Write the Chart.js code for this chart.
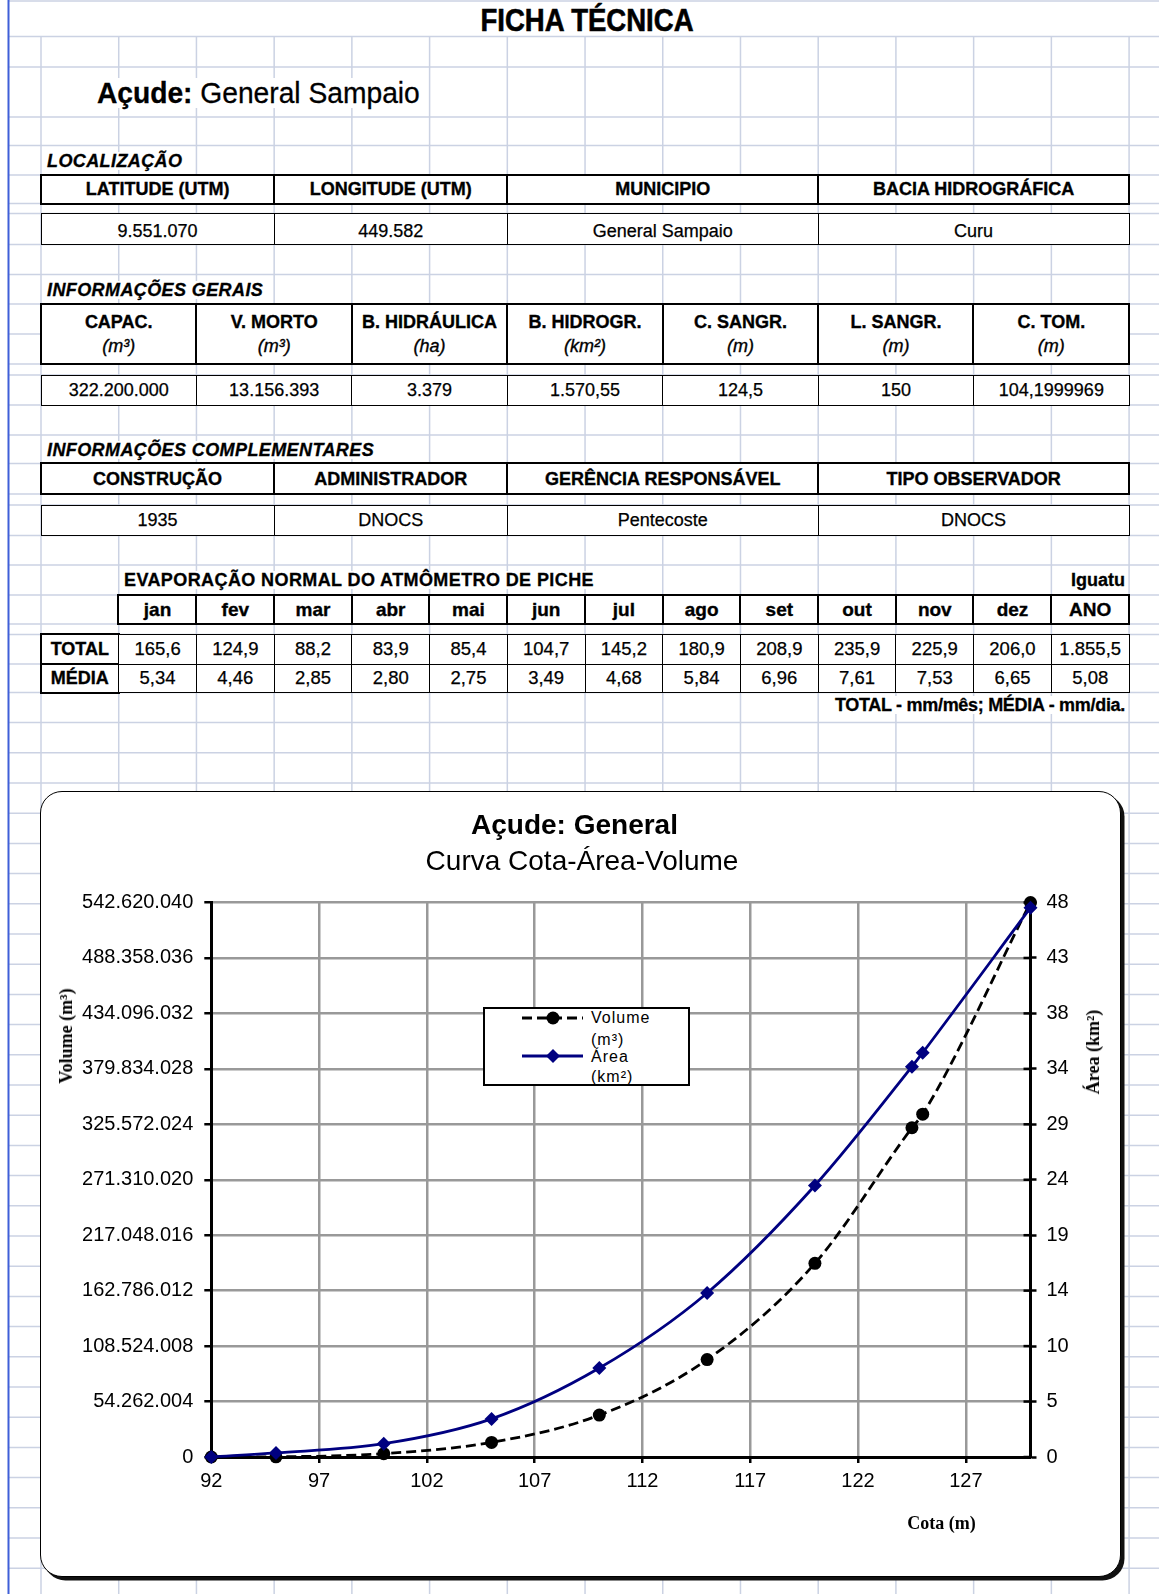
<!DOCTYPE html>
<html lang="pt-BR">
<head>
<meta charset="utf-8">
<title>Ficha Técnica – Açude General Sampaio</title>
<script src="https://cdn.jsdelivr.net/npm/chart.js@4.4.1/dist/chart.umd.min.js"></script>
<style>
  html, body { margin: 0; padding: 0; background: #fff; }
  #page { position: relative; width: 1159px; height: 1594px; overflow: hidden;
          font-family: "Liberation Sans", Arial, sans-serif; color: #000; }
  #sheet { position: absolute; left: 0; top: 0; z-index: 0; }
  .txt { position: absolute; white-space: nowrap; line-height: 1; z-index: 1; }
  .bg { background: #fff; padding: 0 2px; }
  .heavy { -webkit-text-stroke: 0.3px #000; }
  .cell { position: absolute; box-sizing: border-box; background: #fff; z-index: 1;
          display: flex; flex-direction: column; align-items: center; justify-content: center;
          font-size: 18px; white-space: nowrap; line-height: 24px; -webkit-text-stroke: 0.25px #000; }
  .hdr { font-weight: bold; -webkit-text-stroke: 0.35px #000; }
  .unit { font-weight: normal; font-style: italic; }
  #chartBox { position: absolute; left: 40px; top: 791px; width: 1081px; height: 786px;
              box-sizing: border-box; border: 1.5px solid #000; border-radius: 22px;
              box-shadow: 3.5px 3.5px 0 #111; background: #fff; z-index: 2; }
  #chartCanvas { position: absolute; z-index: 3; }
  .ov { position: absolute; white-space: nowrap; line-height: 1; z-index: 4; }
  .serifb { font-family: "Liberation Serif", "Times New Roman", serif; font-weight: bold; font-size: 18px; }
  #legend { position: absolute; left: 483px; top: 1007px; width: 207px; height: 79px; box-sizing: border-box;
            border: 2.5px solid #000; background: #fff; overflow: hidden; z-index: 4; }
  #legend .lt { position: absolute; font-size: 16px; letter-spacing: 1px; line-height: 1; white-space: nowrap; }
  #legend svg { position: absolute; left: 0; top: 0; }
</style>
</head>
<body>
<div id="page">
  <svg id="sheet" width="1159" height="1594"></svg>
  <div id="chartBox"></div>
  <canvas id="chartCanvas"></canvas>
</div>
<script>
// ---- sheet contents ----
const locHeaders  = ['LATITUDE (UTM)', 'LONGITUDE (UTM)', 'MUNICIPIO', 'BACIA HIDROGRÁFICA'];
const locValues   = ['9.551.070', '449.582', 'General Sampaio', 'Curu'];
const infoHeaders = ['CAPAC.', 'V. MORTO', 'B. HIDRÁULICA', 'B. HIDROGR.', 'C. SANGR.', 'L. SANGR.', 'C. TOM.'];
const infoUnits   = ['(m³)', '(m³)', '(ha)', '(km²)', '(m)', '(m)', '(m)'];
const infoValues  = ['322.200.000', '13.156.393', '3.379', '1.570,55', '124,5', '150', '104,1999969'];
const compHeaders = ['CONSTRUÇÃO', 'ADMINISTRADOR', 'GERÊNCIA RESPONSÁVEL', 'TIPO OBSERVADOR'];
const compValues  = ['1935', 'DNOCS', 'Pentecoste', 'DNOCS'];
const months      = ['jan', 'fev', 'mar', 'abr', 'mai', 'jun', 'jul', 'ago', 'set', 'out', 'nov', 'dez', 'ANO'];
const evapTotal   = ['165,6', '124,9', '88,2', '83,9', '85,4', '104,7', '145,2', '180,9', '208,9', '235,9', '225,9', '206,0', '1.855,5'];
const evapMedia   = ['5,34', '4,46', '2,85', '2,80', '2,75', '3,49', '4,68', '5,84', '6,96', '7,61', '7,53', '6,65', '5,08'];

// ---- cota-área-volume curve ----
const cota      = [92, 95, 100, 105, 110, 115, 120, 124.5, 125, 130];
const volumeM3  = [0, 200000, 3300000, 14300000, 41000000, 95300000, 189500000, 322200000, 335500000, 542620040];
const areaKm2   = [0, 0.35, 1.15, 3.3, 7.7, 14.2, 23.5, 33.79, 35.0, 47.55];

const cotaTickLabels   = ['92', '97', '102', '107', '112', '117', '122', '127'];
const volumeTickLabels = ['0', '54.262.004', '108.524.008', '162.786.012', '217.048.016', '271.310.020',
                          '325.572.024', '379.834.028', '434.096.032', '488.358.036', '542.620.040'];
const areaTickValues   = [0, 4.8, 9.6, 14.4, 19.2, 24, 28.8, 33.6, 38.4, 43.2, 48];
const areaTickLabels   = ['0', '5', '10', '14', '19', '24', '29', '34', '38', '43', '48'];

// ---- spreadsheet layout ----
const page = document.getElementById('page');
const COL0 = 41, COLW = 77.72;
const colX = k => COL0 + k * COLW;

(function drawSheetGrid() {
  const svg = document.getElementById('sheet');
  const ns = 'http://www.w3.org/2000/svg';
  const rows = [1, 36.6, 67, 117, 145.5, 175, 203.5, 213.5, 244.5, 274.5, 304, 334, 364, 375, 405, 435,
                463.6, 494, 505, 535.6, 565, 595, 624, 634.5, 664, 692.4];
  for (let y = 722.6; y < 1594; y += 30.2) rows.push(y);
  const line = (x1, y1, x2, y2, color, w) => {
    const l = document.createElementNS(ns, 'line');
    l.setAttribute('x1', x1); l.setAttribute('y1', y1);
    l.setAttribute('x2', x2); l.setAttribute('y2', y2);
    l.setAttribute('stroke', color); l.setAttribute('stroke-width', w);
    svg.appendChild(l);
  };
  rows.forEach(y => line(9, y, 1159, y, '#cbd2e3', 1.5));
  for (let k = 0; k <= 14; k++) line(colX(k), 36.6, colX(k), 1594, '#cbd2e3', 1.5);
  line(8.5, 0, 8.5, 1594, '#3f5fd8', 2);
})();

function text(str, x, y, css, anchor) {
  const d = document.createElement('div');
  d.className = 'txt';
  d.textContent = str;
  d.style.cssText += css;
  d.style.left = x + 'px';
  d.style.top = y + 'px';
  const ax = anchor === 'right' ? '-100%' : anchor === 'center' ? '-50%' : '0';
  d.style.transform = `translate(${ax}, -50%)`;
  page.appendChild(d);
  return d;
}

function cell(x0, x1, y0, y1, bw, cls, html, css) {
  const d = document.createElement('div');
  d.className = 'cell ' + (cls || '');
  d.style.left = (x0 - bw / 2) + 'px';
  d.style.top = (y0 - bw / 2) + 'px';
  d.style.width = (x1 - x0 + bw) + 'px';
  d.style.height = (y1 - y0 + bw) + 'px';
  d.style.border = bw + 'px solid #000';
  if (css) d.style.cssText += css;
  d.innerHTML = html;
  page.appendChild(d);
  return d;
}

// headings
const ficha = text('FICHA TÉCNICA', 587, 19.5, 'font-weight:bold;font-size:32px;-webkit-text-stroke:0.6px #000;', 'center');
ficha.style.transform = 'translate(-50%, -50%) scaleX(0.86)';
const acude = document.createElement('div');
acude.className = 'txt bg heavy';
acude.innerHTML = '<b>Açude:</b> General Sampaio';
acude.style.cssText += 'left:95px;top:92.5px;font-size:30px;transform-origin:0 50%;transform:translate(0,-50%) scaleX(0.94);';
page.appendChild(acude);

const secCss = 'font-weight:bold;font-style:italic;font-size:18px;letter-spacing:0.4px;';
text('LOCALIZAÇÃO', 45, 161, secCss, 'left').classList.add('bg', 'heavy');
text('INFORMAÇÕES GERAIS', 45, 290, secCss, 'left').classList.add('bg', 'heavy');
text('INFORMAÇÕES COMPLEMENTARES', 45, 449.5, secCss, 'left').classList.add('bg', 'heavy');
text('EVAPORAÇÃO NORMAL DO ATMÔMETRO DE PICHE', 122, 580, 'font-weight:bold;font-size:18px;letter-spacing:0.4px;', 'left').classList.add('bg', 'heavy');
text('Iguatu', 1127, 580, 'font-weight:bold;font-size:18px;', 'right').classList.add('bg', 'heavy');
const note = text('', 1127, 705, 'font-weight:bold;font-size:18px;letter-spacing:-0.3px;', 'right');
note.innerHTML = 'TOTAL - mm/mês; MÉDIA - mm/dia.';
note.classList.add('bg', 'heavy');

// LOCALIZAÇÃO
const cols4 = [colX(0), colX(3), colX(6), colX(10), colX(14)];
locHeaders.forEach((h, i) => cell(cols4[i], cols4[i + 1], 175, 203.5, 2.5, 'hdr', h));
locValues.forEach((v, i) => cell(cols4[i], cols4[i + 1], 213.5, 244.5, 1, '', v, 'padding-top:4px;'));

// INFORMAÇÕES GERAIS
const cols7 = [0, 2, 4, 6, 8, 10, 12, 14].map(colX);
infoHeaders.forEach((h, i) =>
  cell(cols7[i], cols7[i + 1], 304, 364, 2.5, 'hdr', `<span>${h}</span><span class="unit">${infoUnits[i]}</span>`));
infoValues.forEach((v, i) => cell(cols7[i], cols7[i + 1], 375, 405, 1, '', v));

// INFORMAÇÕES COMPLEMENTARES
compHeaders.forEach((h, i) => cell(cols4[i], cols4[i + 1], 463.6, 494, 2.5, 'hdr', h));
compValues.forEach((v, i) => cell(cols4[i], cols4[i + 1], 505, 535.6, 1, '', v));

// evaporação
months.forEach((m, i) => cell(colX(i + 1), colX(i + 2), 595, 624, 2.5, 'hdr', m, 'font-size:19px;'));
cell(colX(0), colX(1), 634.5, 664, 2.5, 'hdr', 'TOTAL');
cell(colX(0), colX(1), 664, 692.4, 2.5, 'hdr', 'MÉDIA');
evapTotal.forEach((v, i) => cell(colX(i + 1), colX(i + 2), 634.5, 664, 1, '', v, 'font-size:18.5px;'));
evapMedia.forEach((v, i) => cell(colX(i + 1), colX(i + 2), 664, 692.4, 1, '', v, 'font-size:18.5px;'));

// ---- chart ----
const CANVAS = { left: 40, top: 791, w: 1082, h: 787 };
const PLOT = { left: 211.3, right: 1030.5, top: 902.5, bottom: 1457 };

function overlay(html, x, y, cls, css) {
  const d = document.createElement('div');
  d.className = 'ov ' + (cls || '');
  d.innerHTML = html;
  d.style.left = x + 'px';
  d.style.top = y + 'px';
  d.style.cssText += css || '';
  page.appendChild(d);
  return d;
}
overlay('Açude: General', 574.5, 825, '', 'font-weight:bold;font-size:28px;transform:translate(-50%,-50%);');
overlay('Curva Cota-Área-Volume', 582, 861, '', 'font-size:28px;transform:translate(-50%,-50%);');
overlay('Volume (m³)', 66, 1036, 'serifb', 'transform:translate(-50%,-50%) rotate(-90deg);');
overlay('Área (km²)', 1093, 1052, 'serifb', 'transform:translate(-50%,-50%) rotate(-90deg);');
overlay('Cota (m)', 941.5, 1523, 'serifb', 'transform:translate(-50%,-50%);');

// legend
const legend = document.createElement('div');
legend.id = 'legend';
legend.innerHTML =
  '<svg width="207" height="79">' +
  '<line x1="37" y1="9" x2="98" y2="9" stroke="#000" stroke-width="3" stroke-dasharray="10 5"/>' +
  '<circle cx="68" cy="9" r="6.5" fill="#000"/>' +
  '<line x1="37" y1="47" x2="98" y2="47" stroke="#000080" stroke-width="3"/>' +
  '<polygon points="61,47 68,40 75,47 68,54" fill="#000080"/>' +
  '</svg>' +
  '<div class="lt" style="left:106px;top:1px;">Volume</div>' +
  '<div class="lt" style="left:106px;top:23px;">(m³)</div>' +
  '<div class="lt" style="left:106px;top:40px;">Área</div>' +
  '<div class="lt" style="left:106px;top:60px;">(km²)</div>';
page.appendChild(legend);

const canvas = document.getElementById('chartCanvas');
canvas.width = CANVAS.w; canvas.height = CANVAS.h;
canvas.style.left = CANVAS.left + 'px'; canvas.style.top = CANVAS.top + 'px';
canvas.style.width = CANVAS.w + 'px'; canvas.style.height = CANVAS.h + 'px';

// tick marks on the right axis also reach into the plot
const innerRightTicks = {
  id: 'innerRightTicks',
  beforeDatasetsDraw(chart) {
    const s = chart.scales.y2, ctx = chart.ctx;
    ctx.save();
    ctx.strokeStyle = '#000';
    ctx.lineWidth = 2.5;
    s.ticks.forEach(t => {
      const y = s.getPixelForValue(t.value);
      ctx.beginPath(); ctx.moveTo(s.left - 7, y); ctx.lineTo(s.left, y); ctx.stroke();
    });
    ctx.restore();
  }
};

const tickFont = { family: 'Liberation Sans', size: 20 };
const axisBorder = { color: '#000', width: 3 };

new Chart(canvas, {
  type: 'line',
  data: {
    datasets: [
      {
        label: 'Volume (m³)',
        data: cota.map((c, i) => ({ x: c, y: volumeM3[i] })),
        yAxisID: 'y',
        borderColor: '#000', borderWidth: 2.8, borderDash: [10, 5],
        pointStyle: 'circle', pointRadius: 6.5, pointBorderWidth: 0,
        pointBackgroundColor: '#000', pointBorderColor: '#000',
        cubicInterpolationMode: 'monotone', fill: false, clip: false, order: 2
      },
      {
        label: 'Área (km²)',
        data: cota.map((c, i) => ({ x: c, y: areaKm2[i] })),
        yAxisID: 'y2',
        borderColor: '#000080', borderWidth: 2.8,
        pointStyle: 'rectRot', pointRadius: 7, pointBorderWidth: 0,
        pointBackgroundColor: '#000080', pointBorderColor: '#000080',
        cubicInterpolationMode: 'monotone', fill: false, clip: false, order: 1
      }
    ]
  },
  options: {
    responsive: false, animation: false, devicePixelRatio: 1, events: [],
    layout: { autoPadding: false, padding: { top: PLOT.top - CANVAS.top, left: 0, right: 0, bottom: 0 } },
    plugins: { legend: { display: false }, title: { display: false }, tooltip: { enabled: false } },
    scales: {
      x: {
        type: 'linear', position: 'bottom', min: 92, max: 130,
        afterBuildTicks: s => { s.ticks = cotaTickLabels.map(v => ({ value: Number(v) })); },
        afterFit: s => { s.height = CANVAS.top + CANVAS.h - PLOT.bottom; },
        ticks: { callback: (v, i) => cotaTickLabels[i], autoSkip: false, maxRotation: 0, color: '#000', font: tickFont, padding: 6 },
        grid: { color: '#999', lineWidth: 2.5, tickColor: '#000', tickWidth: 2.5, tickLength: 6 },
        border: axisBorder
      },
      y: {
        type: 'linear', position: 'left', min: 0, max: 542620040,
        afterBuildTicks: s => { s.ticks = volumeTickLabels.map(l => ({ value: Number(l.replace(/\./g, '')) })); },
        afterFit: s => { s.width = PLOT.left - CANVAS.left; },
        ticks: { callback: (v, i) => volumeTickLabels[i], autoSkip: false, color: '#000', font: tickFont, padding: 11 },
        grid: { color: '#999', lineWidth: 2.5, tickColor: '#000', tickWidth: 2.5, tickLength: 7 },
        border: axisBorder
      },
      y2: {
        type: 'linear', position: 'right', min: 0, max: 48,
        afterBuildTicks: s => { s.ticks = areaTickValues.map(v => ({ value: v })); },
        afterFit: s => { s.width = CANVAS.left + CANVAS.w - PLOT.right; },
        ticks: { callback: (v, i) => areaTickLabels[i], autoSkip: false, color: '#000', font: tickFont, padding: 10 },
        grid: { drawOnChartArea: false, tickColor: '#000', tickWidth: 2.5, tickLength: 6 },
        border: axisBorder
      }
    }
  },
  plugins: [innerRightTicks]
});
</script>
</body>
</html>
